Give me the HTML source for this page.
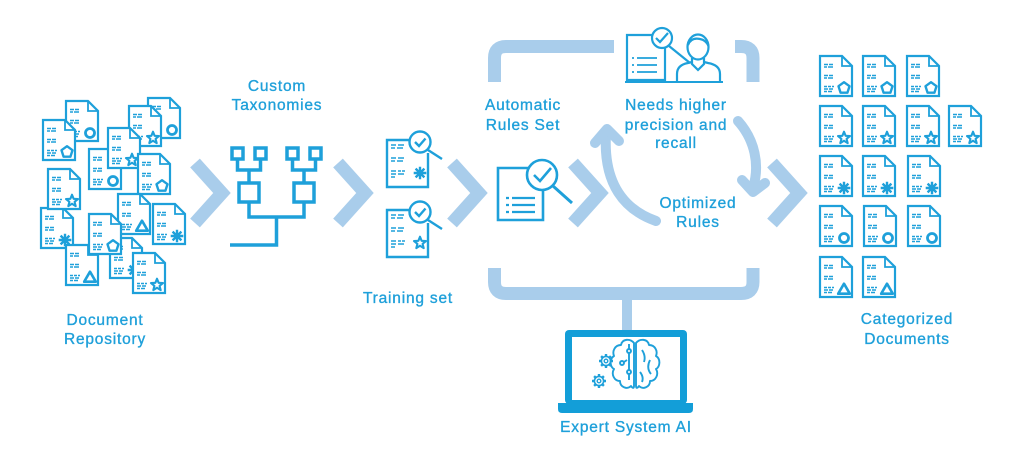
<!DOCTYPE html>
<html><head><meta charset="utf-8"><style>html,body{margin:0;padding:0;background:#fff;width:1024px;height:461px;overflow:hidden}</style></head>
<body>
<svg width="1024" height="461" viewBox="0 0 1024 461" xmlns="http://www.w3.org/2000/svg">
<defs>
  <g id="d">
    <path d="M1,1H23L33,11V41H1Z" fill="#fff" stroke="#1ea0da" stroke-width="2.2"/>
    <path d="M23,1V11H33" fill="none" stroke="#1ea0da" stroke-width="1.8"/>
    <path d="M5,9.5h4M10,9.5h4M5,12h3M9,12h5M5,20.5h4M10,20.5h4M5,23h3M9,23h5M5,31.5h3M9,31.5h3M13,31.5h2M5,34h4M10,34h4M5,36.5h3M9,36.5h4" stroke="#1ea0da" stroke-width="1.4" fill="none"/>
  </g>
  <g id="iC"><circle r="4.5" fill="none" stroke="#1ea0da" stroke-width="2.8"/></g>
  <g id="iP"><polygon points="0,-5.8 5.5,-1.8 3.4,4.7 -3.4,4.7 -5.5,-1.8" fill="none" stroke="#1ea0da" stroke-width="2.4" stroke-linejoin="round"/></g>
  <g id="iS"><polygon points="0,-6.3 1.6,-2.2 6,-1.95 2.6,0.85 3.7,5.1 0,2.7 -3.7,5.1 -2.6,0.85 -6,-1.95 -1.6,-2.2" fill="none" stroke="#1ea0da" stroke-width="2.1" stroke-linejoin="round"/></g>
  <g id="iT"><polygon points="0,-5.3 5.8,4.7 -5.8,4.7" fill="none" stroke="#1ea0da" stroke-width="2.6" stroke-linejoin="round"/></g>
  <g id="iA"><path d="M0,-6.3V6.3M-6.3,0H6.3M-4.4,-4.4L4.4,4.4M-4.4,4.4L4.4,-4.4" stroke="#1ea0da" stroke-width="2.4"/><circle r="3.2" fill="#1ea0da"/></g>
  <g id="dC"><use href="#d"/><use href="#iC" x="25" y="33"/></g>
  <g id="dP"><use href="#d"/><use href="#iP" x="25" y="33"/></g>
  <g id="dS"><use href="#d"/><use href="#iS" x="25" y="33"/></g>
  <g id="dT"><use href="#d"/><use href="#iT" x="25" y="33"/></g>
  <g id="dA"><use href="#d"/><use href="#iA" x="25" y="33"/></g>
  <g id="md">
    <path d="M22,0H0V47H41V13" fill="none" stroke="#1ea0da" stroke-width="2.4"/>
    <circle cx="33" cy="2" r="10.5" fill="#fff" stroke="#1ea0da" stroke-width="2.4"/>
    <path d="M28,2L32,6L38.5,-1.5" fill="none" stroke="#1ea0da" stroke-width="2.4"/>
    <path d="M41,10L55,19" stroke="#1ea0da" stroke-width="2.4"/>
    <path d="M4,5h5M11,5h6M4,8h4M10,8h6M4,18h5M11,18h6M4,21h4M10,21h6M4,31h5M11,31h3M15,31h3M4,34h5M11,34h6M4,37h4" stroke="#1ea0da" stroke-width="1.6"/>
  </g>
  <g id="gear" fill="none" stroke="#1ea0da">
    <circle r="4.6" stroke-width="1.6"/>
    <circle r="1.8" stroke-width="1.4"/>
    <path d="M0,-4.6V-7M0,4.6V7M-4.6,0H-7M4.6,0H7M-3.3,-3.3L-4.9,-4.9M3.3,3.3L4.9,4.9M-3.3,3.3L-4.9,4.9M3.3,-3.3L4.9,-4.9" stroke-width="2.4"/>
  </g>
</defs>

<!-- Left repository cluster -->
<use href="#dC" x="147" y="97"/>
<use href="#dS" x="128" y="105"/>
<use href="#dC" x="65" y="100"/>
<use href="#dP" x="42" y="119"/>
<use href="#dC" x="88" y="148"/>
<use href="#dS" x="107" y="127"/>
<use href="#dP" x="137" y="153"/>
<use href="#dA" x="40" y="207"/>
<use href="#dS" x="47" y="168"/>
<use href="#dA" x="152" y="203"/>
<use href="#dT" x="117" y="193"/>
<use href="#dA" x="109" y="237"/>
<use href="#dT" x="65" y="244"/>
<use href="#dP" x="88" y="213"/>
<use href="#dS" x="132" y="252"/>

<!-- Chevrons -->
<g fill="none" stroke="#a9cdeb" stroke-width="13" stroke-linejoin="miter">
  <polyline points="195,163 222,193 195,223"/>
  <polyline points="338,163 365,193 338,223"/>
  <polyline points="452,163 479,193 452,223"/>
  <polyline points="573,163 600,193 573,223"/>
  <polyline points="772,163 799,193 772,223"/>
</g>

<!-- Taxonomy tree -->
<g fill="none" stroke="#1ea0da" stroke-width="3.5">
  <rect x="232" y="148" width="11" height="11"/>
  <rect x="255" y="148" width="11" height="11"/>
  <rect x="287" y="148" width="11" height="11"/>
  <rect x="310" y="148" width="11" height="11"/>
  <path d="M237.5,159V170H260.5V159M249,170V182"/>
  <path d="M292.5,159V170H315.5V159M304,170V182"/>
  <rect x="239" y="183" width="20" height="19"/>
  <rect x="294" y="183" width="20" height="19"/>
  <path d="M249,202V217H304V202M276.5,217V245H230"/>
</g>

<!-- Training set docs -->
<use href="#md" x="387" y="140"/>
<use href="#iA" x="420" y="173"/>
<use href="#md" x="387" y="210"/>
<use href="#iS" x="420" y="243"/>

<!-- Brackets -->
<g fill="none" stroke="#a9cdeb" stroke-width="13">
  <path d="M494.5,82V58Q494.5,46.5 506,46.5H614"/>
  <path d="M735,46.5H741Q753,46.5 753,58V82"/>
  <path d="M494.5,268V282Q494.5,293.5 506,293.5H741Q753,293.5 753,282V268"/>
</g>
<path d="M627,293V331" stroke="#a9cdeb" stroke-width="10"/>

<!-- Curved arrows -->
<g fill="none" stroke="#a9cdeb" stroke-width="10" stroke-linecap="round" stroke-linejoin="round">
  <path d="M656,221C625,210 603,185 606,134"/>
  <polyline points="595,143 607,129 619,141"/>
  <path d="M738,121C755,140 760,165 753,188"/>
  <polyline points="742,180 753,192 765,183"/>
</g>

<!-- Central doc with magnifier -->
<g fill="none" stroke="#1ea0da" stroke-width="2.6">
  <path d="M528,168H498V220H543V190"/>
  <circle cx="542" cy="175" r="15" fill="#fff"/>
  <path d="M534,175L540,181L551,168"/>
  <path d="M553,186L572,203" stroke-width="3"/>
  <path d="M506,198h3M512,198h23M506,205h3M512,205h23M506,212h3M512,212h23" stroke-width="2.2"/>
</g>

<!-- Person + doc icon -->
<g fill="none" stroke="#1ea0da" stroke-width="2.2">
  <path d="M652,35H627V80H665V48"/>
  <circle cx="662" cy="38" r="10" fill="#fff"/>
  <path d="M656,38L660,42L668,33"/>
  <path d="M669,46L690,63"/>
  <path d="M632,58h2M637,58h20M632,65h2M637,65h20M632,72h2M637,72h20" stroke-width="1.8"/>
  <ellipse cx="698" cy="47" rx="10.5" ry="12.5"/>
  <path d="M688,45Q691,37 700,39Q706,40 708.5,46"/>
  <path d="M677,82V74Q677,65 688,63L692,62M704,62L708,63Q720,65 720,74V82"/>
  <path d="M692,58V64L698,70L704,64V58"/>
  <path d="M625,82H723" stroke-width="2"/>
</g>

<!-- Laptop -->
<rect x="565" y="330" width="122" height="74" rx="4" fill="#139ed8"/>
<rect x="572" y="337" width="108" height="63" fill="#fff"/>
<path d="M558,403H693V409Q693,413 689,413H562Q558,413 558,409Z" fill="#139ed8"/>
<g fill="none" stroke="#1ea0da" stroke-width="1.9" stroke-linejoin="round">
  <path d="M634,343C630,338 622,339 621,345C615,345 612,351 614,356C609,359 610,367 614,369C611,374 614,381 620,381C620,387 627,390 631,386C633,389 634,388 634,386Z"/>
  <path d="M636,343C640,338 648,339 649,345C655,345 658,351 656,356C661,359 660,367 656,369C659,374 656,381 650,381C650,387 643,390 639,386C637,389 636,388 636,386Z"/>
  <path d="M642,350Q646,356 644,362M650,360Q646,368 651,374M640,372Q644,377 642,382"/>
  <path d="M629,344V349M629,353V370M629,374V380M627,360L624,362"/>
  <circle cx="629" cy="351" r="2"/>
  <circle cx="629" cy="372" r="2"/>
  <circle cx="622" cy="363" r="2"/>
</g>
<use href="#gear" x="606" y="361"/>
<use href="#gear" x="599" y="381"/>

<!-- Right categorized docs -->
<use href="#dP" x="819" y="55"/><use href="#dP" x="862" y="55"/><use href="#dP" x="906" y="55"/>
<use href="#dS" x="819" y="105"/><use href="#dS" x="862" y="105"/><use href="#dS" x="906" y="105"/><use href="#dS" x="948" y="105"/>
<use href="#dA" x="819" y="155"/><use href="#dA" x="862" y="155"/><use href="#dA" x="907" y="155"/>
<use href="#dC" x="819" y="205"/><use href="#dC" x="863" y="205"/><use href="#dC" x="907" y="205"/>
<use href="#dT" x="819" y="256"/><use href="#dT" x="862" y="256"/>

<!-- Labels -->
<g font-family="'Liberation Sans', sans-serif" font-size="15.5" fill="#1fa0da" stroke="#1fa0da" stroke-width="0.35" text-anchor="middle" letter-spacing="0.8">
  <text x="105" y="325">Document</text>
  <text x="105" y="344">Repository</text>
  <text x="277" y="91">Custom</text>
  <text x="277" y="110">Taxonomies</text>
  <text x="408" y="303">Training set</text>
  <text x="523" y="110">Automatic</text>
  <text x="523" y="130">Rules Set</text>
  <text x="676" y="110">Needs higher</text>
  <text x="676" y="130">precision and</text>
  <text x="676" y="148">recall</text>
  <text x="698" y="208">Optimized</text>
  <text x="698" y="227">Rules</text>
  <text x="907" y="324">Categorized</text>
  <text x="907" y="344">Documents</text>
  <text x="626" y="432">Expert System AI</text>
</g>
</svg>
</body></html>
